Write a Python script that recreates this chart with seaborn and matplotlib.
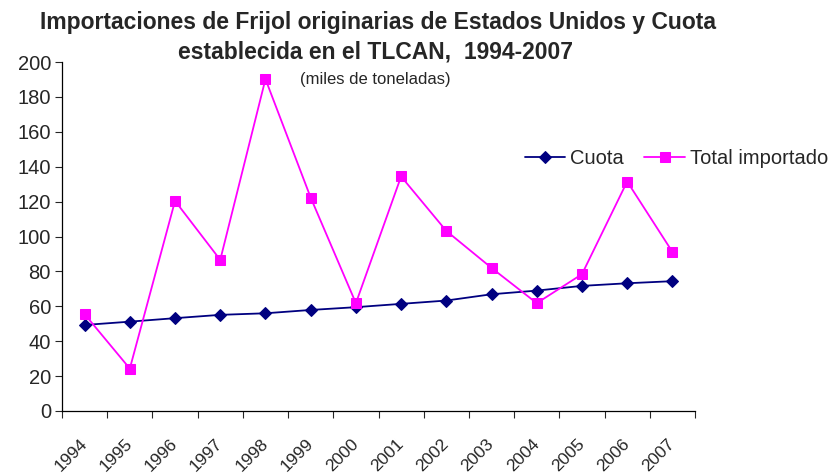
import numpy as np
import pandas as pd
import matplotlib
matplotlib.use("Agg")
import matplotlib.pyplot as plt
import seaborn as sns

# datos (miles de toneladas)
anios = ["1994", "1995", "1996", "1997", "1998", "1999", "2000",
         "2001", "2002", "2003", "2004", "2005", "2006", "2007"]
cuota = [49.3, 51.2, 53.2, 55.1, 56.0, 57.9, 59.5,
         61.4, 63.3, 66.9, 69.0, 71.7, 73.2, 74.4]
total_importado = [55.5, 24.3, 120.4, 86.6, 190.2, 122.3, 61.8,
                   134.4, 103.2, 82.0, 61.8, 78.4, 131.5, 91.2]

sns.set_style("white")
plt.rcParams['font.family'] = ['Liberation Sans', 'DejaVu Sans']

df = pd.DataFrame({"pos": np.arange(len(anios)), "anio": anios,
                   "Cuota": cuota, "Total importado": total_importado})

fig = plt.figure(figsize=(8.35, 4.74), dpi=100)
ax = fig.add_axes([62 / 835, 63 / 474, 633 / 835, 349 / 474])

sns.lineplot(data=df, x="pos", y="Cuota", ax=ax, color="#000080", lw=1.3,
             marker="D", markersize=6, markeredgecolor="#000080", label="Cuota")
sns.lineplot(data=df, x="pos", y="Total importado", ax=ax, color="#FF00FF", lw=1.3,
             marker="s", markersize=7, markeredgecolor="#FF00FF", label="Total importado")

ax.set_xlim(-0.5, len(anios) - 0.5)
ax.set_ylim(0, 200)
ax.set_yticks(np.arange(0, 201, 20))
ax.tick_params(axis="y", labelsize=14.5, length=5, width=0.8, direction="out", pad=3, left=True)

ax.set_xticks(np.arange(len(anios)))
ax.set_xticklabels(anios, rotation=45, ha="right", va="center",
                   rotation_mode="anchor", fontsize=12.5)
ax.set_xticks(np.arange(-0.5, len(anios)), minor=True)
ax.tick_params(axis="x", which="major", length=0, pad=22)
ax.tick_params(axis="x", which="minor", length=5, width=0.8, direction="out", bottom=True)
ax.set_xlabel("")
ax.set_ylabel("")

for s in ["top", "right"]:
    ax.spines[s].set_visible(False)
for s in ["left", "bottom"]:
    ax.spines[s].set_color("black")
    ax.spines[s].set_linewidth(0.9)

fig.text(378 / 835, 1 - 22 / 474, "Importaciones de Frijol originarias de Estados Unidos y Cuota",
         ha="center", va="center", fontsize=16.5, fontweight="bold")
fig.text(376 / 835, 1 - 52 / 474, "establecida en el TLCAN,  1994-2007",
         ha="center", va="center", fontsize=16.5, fontweight="bold")
fig.text(375 / 835, 1 - 80 / 474, "(miles de toneladas)",
         ha="center", va="center", fontsize=12)

ax.legend(loc="center right", bbox_to_anchor=(836 / 835, 1 - 159 / 474),
          bbox_transform=fig.transFigure, ncol=2, frameon=False, fontsize=14.5,
          handlelength=2.0, handletextpad=0.25, columnspacing=1.0, borderaxespad=0)

fig.savefig("out.png", dpi=100)
